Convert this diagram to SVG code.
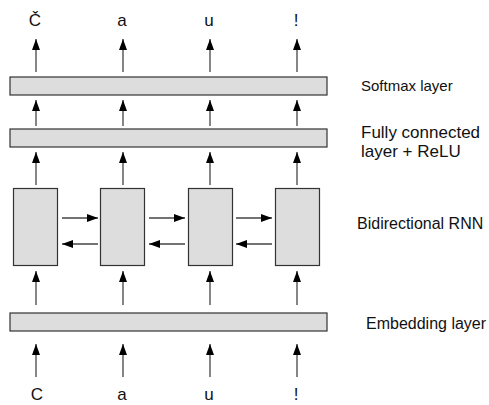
<svg xmlns="http://www.w3.org/2000/svg" width="489" height="405" viewBox="0 0 489 405">
<defs>
<marker id="ah" viewBox="0 0 11 8" refX="11" refY="4" markerWidth="11" markerHeight="8" markerUnits="userSpaceOnUse" orient="auto">
<path d="M0,0 L11,4 L0,8 z" fill="#000"/>
</marker>
<style>
.bar{fill:#dddddd;stroke:#333;stroke-width:1.2}
.c{stroke:#444;stroke-width:1.3;fill:none;marker-end:url(#ah)}
.t{font-family:"Liberation Sans",Arial,sans-serif;fill:#111}
.tk{font-size:17px;text-anchor:middle}
.lb{font-size:15px}
</style>
</defs>
<rect width="489" height="405" fill="#fff"/>
<g id="softmax"><rect class="bar" x="10" y="77" width="317" height="18"/></g>
<g id="fc"><rect class="bar" x="10" y="129" width="317" height="18"/></g>
<g id="rnn1"><rect class="bar" x="13.5" y="188.5" width="44" height="77"/></g>
<g id="rnn2"><rect class="bar" x="100.5" y="188.5" width="44" height="77"/></g>
<g id="rnn3"><rect class="bar" x="188.5" y="188.5" width="44" height="77"/></g>
<g id="rnn4"><rect class="bar" x="275.5" y="188.5" width="44" height="77"/></g>
<g id="embedding"><rect class="bar" x="10" y="313" width="317" height="18"/></g>
<g id="connectors">
<line class="c" x1="36" y1="72" x2="36" y2="39"/>
<line class="c" x1="123" y1="72" x2="123" y2="39"/>
<line class="c" x1="210" y1="72" x2="210" y2="39"/>
<line class="c" x1="297" y1="72" x2="297" y2="39"/>
<line class="c" x1="36" y1="126" x2="36" y2="100"/>
<line class="c" x1="123" y1="126" x2="123" y2="100"/>
<line class="c" x1="210" y1="126" x2="210" y2="100"/>
<line class="c" x1="297" y1="126" x2="297" y2="100"/>
<line class="c" x1="36" y1="185" x2="36" y2="152"/>
<line class="c" x1="123" y1="185" x2="123" y2="152"/>
<line class="c" x1="210" y1="185" x2="210" y2="152"/>
<line class="c" x1="297" y1="185" x2="297" y2="152"/>
<line class="c" x1="62" y1="218" x2="98" y2="218"/>
<line class="c" x1="149" y1="218" x2="185" y2="218"/>
<line class="c" x1="236" y1="218" x2="272" y2="218"/>
<line class="c" x1="98" y1="244" x2="62" y2="244"/>
<line class="c" x1="185" y1="244" x2="149" y2="244"/>
<line class="c" x1="272" y1="244" x2="236" y2="244"/>
<line class="c" x1="36" y1="305" x2="36" y2="271"/>
<line class="c" x1="123" y1="305" x2="123" y2="271"/>
<line class="c" x1="210" y1="305" x2="210" y2="271"/>
<line class="c" x1="297" y1="305" x2="297" y2="271"/>
<line class="c" x1="36" y1="377" x2="36" y2="344"/>
<line class="c" x1="123" y1="377" x2="123" y2="344"/>
<line class="c" x1="210" y1="377" x2="210" y2="344"/>
<line class="c" x1="297" y1="377" x2="297" y2="344"/>
</g>
<g id="labels">
<text class="t tk" x="35" y="26">Č</text>
<text class="t tk" x="122" y="26">a</text>
<text class="t tk" x="209" y="26">u</text>
<text class="t tk" x="296" y="26">!</text>
<text class="t tk" x="37" y="400">C</text>
<text class="t tk" x="122" y="400">a</text>
<text class="t tk" x="209" y="400">u</text>
<text class="t tk" x="296" y="400">!</text>
<text class="t lb" x="361" y="91">Softmax layer</text>
<text class="t lb" x="361" y="138" style="font-size:17px">Fully connected</text>
<text class="t lb" x="361" y="157" style="font-size:17px">layer + ReLU</text>
<text class="t lb" x="357" y="229" style="font-size:16px">Bidirectional RNN</text>
<text class="t lb" x="366" y="329" style="font-size:16px">Embedding layer</text>
</g>
</svg>
